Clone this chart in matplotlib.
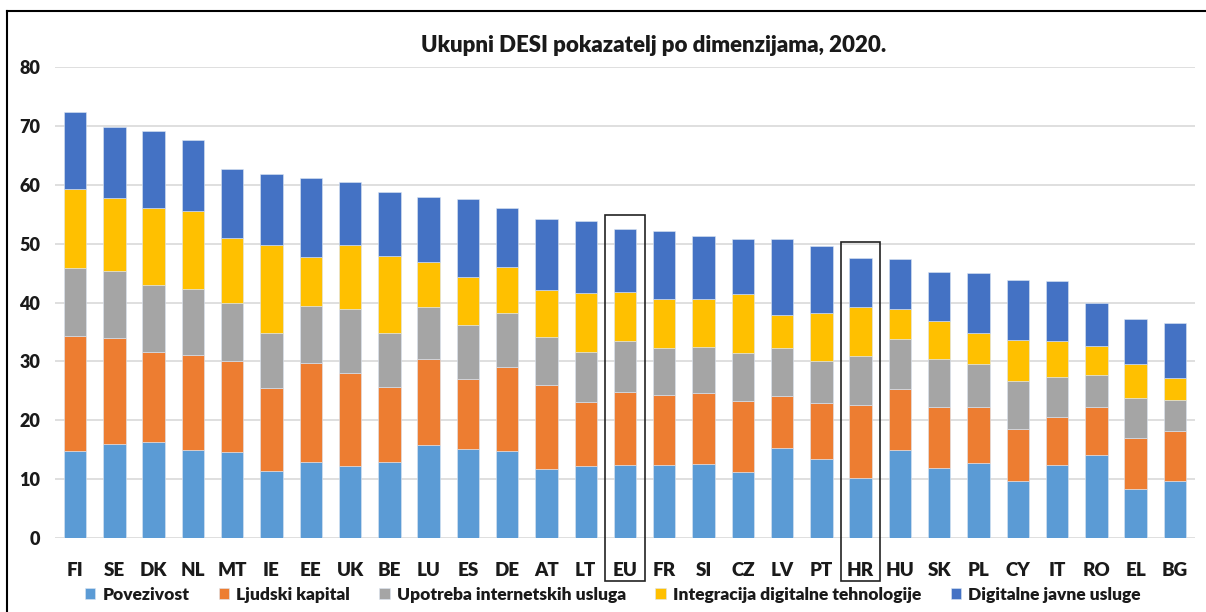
import matplotlib
matplotlib.use("Agg")
import matplotlib.pyplot as plt
from matplotlib.patches import Rectangle
from matplotlib.lines import Line2D
import numpy as np

countries = ["FI", "SE", "DK", "NL", "MT", "IE", "EE", "UK", "BE", "LU", "ES", "DE", "AT", "LT",
             "EU", "FR", "SI", "CZ", "LV", "PT", "HR", "HU", "SK", "PL", "CY", "IT", "RO", "EL", "BG"]

povezivost = [14.8, 16.05, 16.4, 15.05, 14.7, 11.35, 12.9, 12.2, 13.0, 15.8, 15.1, 14.8, 11.75, 12.25,
              12.4, 12.4, 12.6, 11.2, 15.4, 13.45, 10.3, 15.0, 11.9, 12.8, 9.65, 12.4, 14.05, 8.35, 9.65]
ljudski = [19.6, 17.95, 15.25, 16.1, 15.4, 14.15, 16.8, 15.8, 12.6, 14.55, 11.9, 14.2, 14.2, 10.95,
           12.4, 11.9, 12.05, 12.15, 8.8, 9.45, 12.25, 10.3, 10.45, 9.4, 8.9, 8.2, 8.3, 8.65, 8.5]
upotreba = [11.45, 11.4, 11.35, 11.2, 9.9, 9.3, 9.7, 10.95, 9.2, 8.85, 9.25, 9.15, 8.15, 8.45,
            8.7, 7.9, 7.75, 8.15, 8.0, 7.2, 8.35, 8.5, 8.0, 7.35, 8.15, 6.7, 5.35, 6.85, 5.35]
integracija = [13.4, 12.4, 13.1, 13.15, 11.0, 14.95, 8.25, 10.8, 13.1, 7.7, 8.15, 7.95, 8.0, 9.95,
               8.3, 8.45, 8.15, 9.95, 5.7, 8.2, 8.3, 5.05, 6.45, 5.25, 6.95, 6.25, 5.0, 5.7, 3.65]
javne = [13.05, 12.0, 13.0, 12.1, 11.65, 12.0, 13.4, 10.65, 10.8, 11.05, 13.1, 10.0, 12.1, 12.3,
         10.7, 11.55, 10.65, 9.25, 12.8, 11.35, 8.35, 8.6, 8.4, 10.15, 10.25, 10.05, 7.25, 7.7, 9.3]

series_names = ["Povezivost", "Ljudski kapital", "Upotreba internetskih usluga",
                "Integracija digitalne tehnologije", "Digitalne javne usluge"]
series_values = [povezivost, ljudski, upotreba, integracija, javne]
colors = ["#5B9BD5", "#ED7D31", "#A5A5A5", "#FFC000", "#4472C4"]

highlight = ["EU", "HR"]
highlight_tops = [54.9, 50.2]

plt.rcParams['font.family'] = ['Lato', 'DejaVu Sans']

fig = plt.figure(figsize=(12.06, 6.12), dpi=100)
ax = fig.add_axes([0.046, 0.1204, 0.9445, 0.7706])

x = np.arange(len(countries))
bottom = np.zeros(len(countries))
for name, vals, c in zip(series_names, series_values, colors):
    v = np.array(vals)
    ax.bar(x, v, width=0.57, bottom=bottom, color=c, label=name,
           edgecolor="#DCE6F2", linewidth=0.4, zorder=3)
    bottom += v

ax.set_xlim(-0.5, len(countries) - 0.5)
ax.set_ylim(0, 80)
ax.set_yticks(range(0, 81, 10))
ax.grid(axis='y', color="#D9D9D9", linewidth=1.2, zorder=0)
ax.set_axisbelow(True)
for s in ax.spines.values():
    s.set_visible(False)
ax.tick_params(axis='both', length=0)
ax.set_xticks(x)
ax.set_xticklabels(countries, fontsize=13.5, fontweight='heavy', color="#1a1a1a")
ax.tick_params(axis='x', pad=17)
ax.tick_params(axis='y', pad=11)
for lab in ax.get_yticklabels():
    lab.set_fontsize(13)
    lab.set_fontweight('heavy')
    lab.set_color("#1a1a1a")

for code, top in zip(highlight, highlight_tops):
    i = countries.index(code)
    rect = Rectangle((i - 0.5, -7.2), 1.0, top + 7.2, fill=False, edgecolor="#222222",
                     linewidth=1.2, clip_on=False, zorder=5)
    ax.add_patch(rect)

fig.text(0.542, 0.926, "Ukupni DESI pokazatelj po dimenzijama, 2020.", ha='center', va='center',
         fontsize=16, fontweight='heavy', color="#1a1a1a")

handles, labels = ax.get_legend_handles_labels()
leg = fig.legend(handles, labels, loc='center', bbox_to_anchor=(0.508, 0.028), ncol=5,
                 frameon=False, handlelength=0.6, handleheight=0.6, handletextpad=0.4,
                 columnspacing=1.7, prop={'size': 12.5, 'weight': 'heavy'})
for t in leg.get_texts():
    t.set_color("#1a1a1a")

# outer frame (left and top edges)
fig.add_artist(Line2D([7 / 1206, 7 / 1206], [0, 1 - 11 / 612], transform=fig.transFigure,
                      color="black", linewidth=1.5))
fig.add_artist(Line2D([7 / 1206, 1], [1 - 11 / 612, 1 - 11 / 612], transform=fig.transFigure,
                      color="black", linewidth=1.5))

fig.savefig("out.png", dpi=100)
